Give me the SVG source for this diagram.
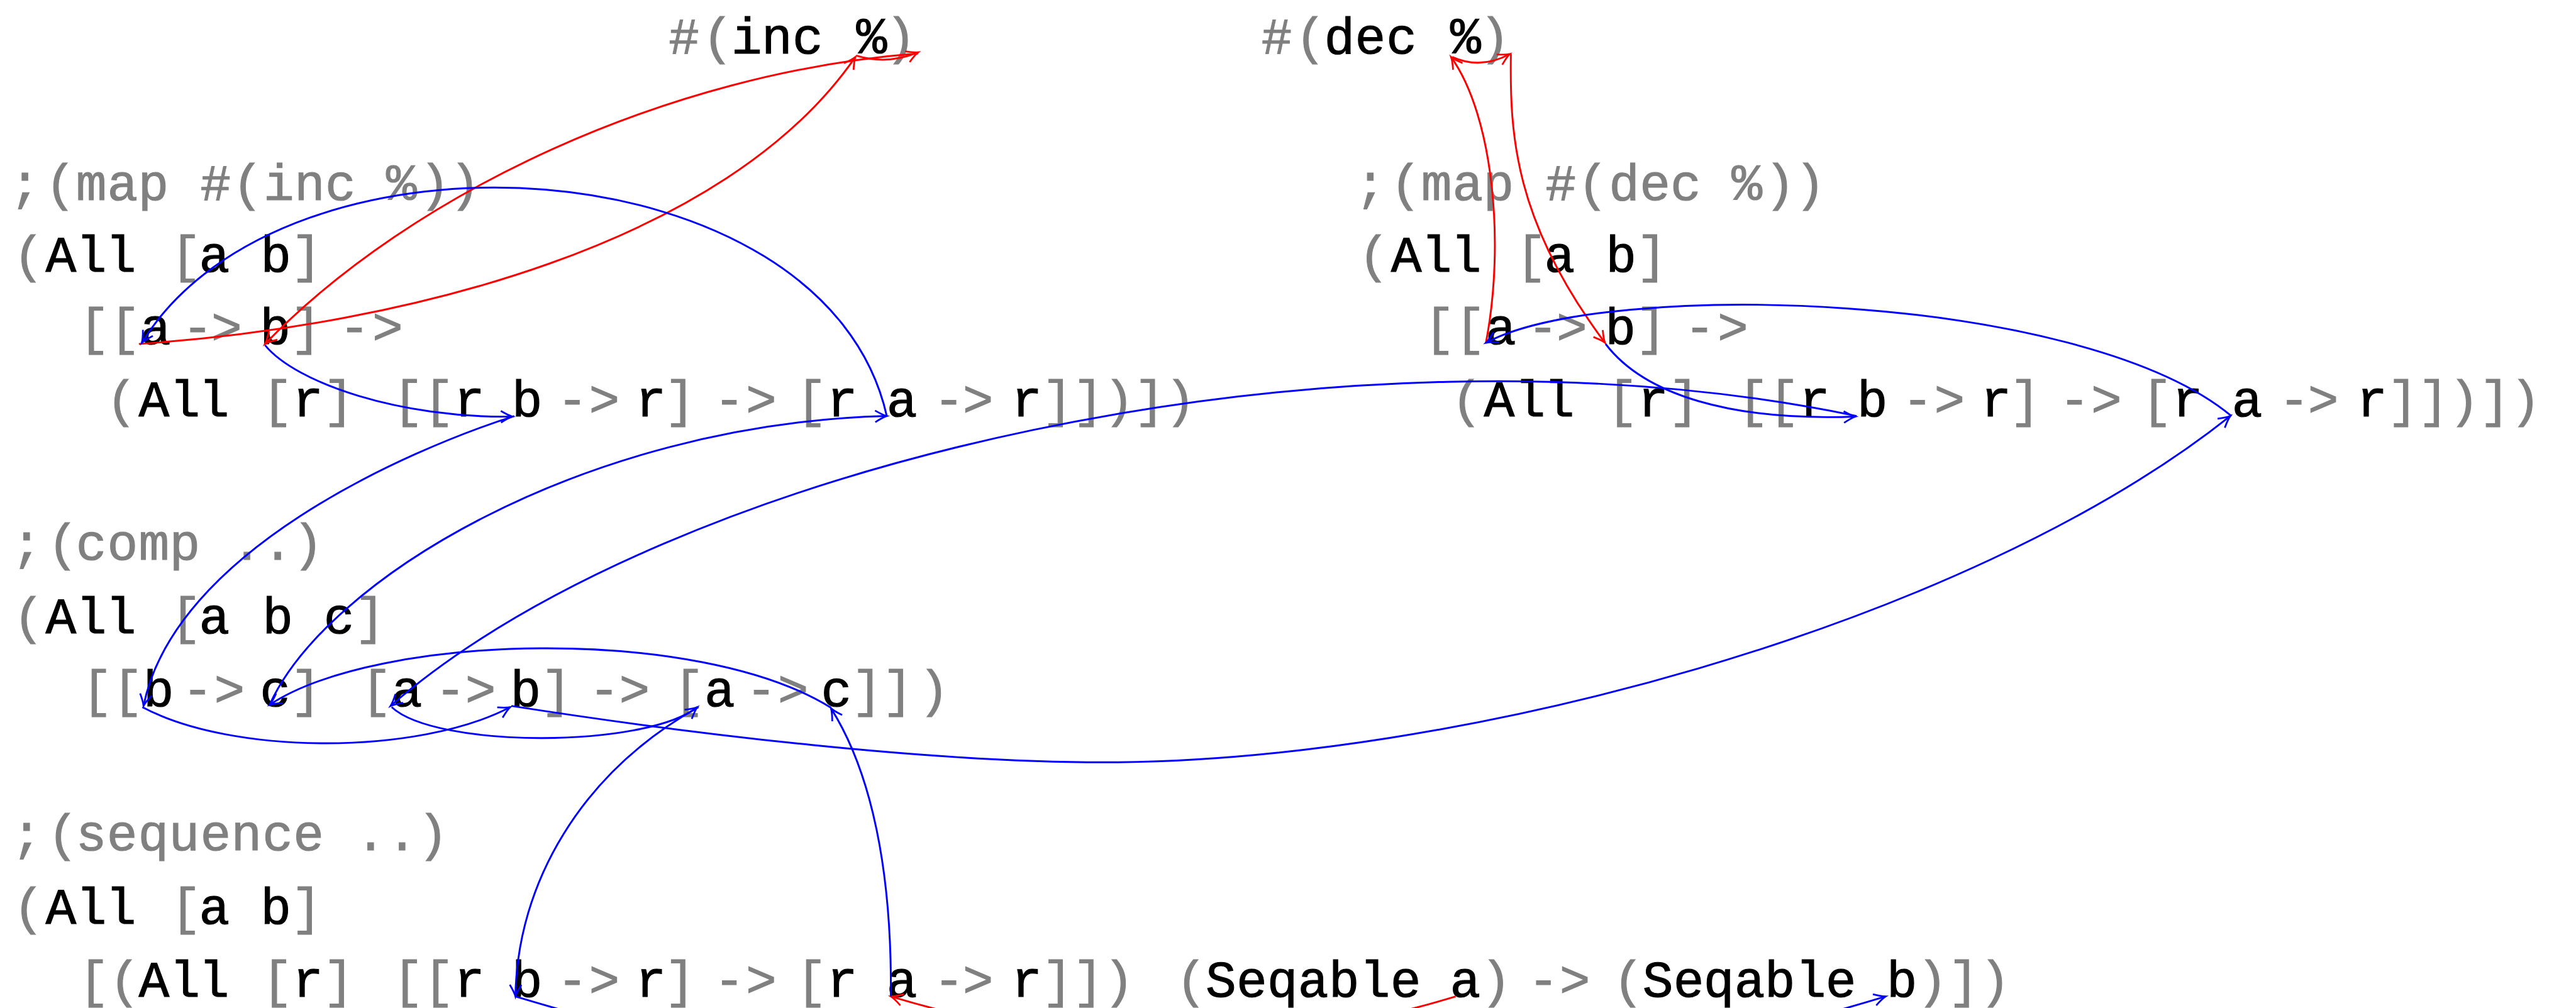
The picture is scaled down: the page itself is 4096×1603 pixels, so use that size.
<svg xmlns="http://www.w3.org/2000/svg" width="4096" height="1603" viewBox="0 0 4096 1603">
<defs>
<style>
.t{font-family:"Liberation Mono","DejaVu Sans Mono",monospace;font-size:88px;text-anchor:middle;stroke-width:1.2}
.g{fill:#808080;stroke:#808080}
.k{fill:#000;stroke:#000}
.cb{fill:none;stroke:#0000ff;stroke-width:3.2}
.cr{fill:none;stroke:#ff0000;stroke-width:3.2}
</style>
<marker id="ab" viewBox="-25 -15 30 30" markerWidth="30" markerHeight="30" refX="0" refY="0" orient="auto" markerUnits="userSpaceOnUse" overflow="visible"><path d="M-20,-10 Q-7,-2 0,0 Q-7,2 -20,10" fill="none" stroke="#0000ff" stroke-width="3"/></marker>
<marker id="ar" viewBox="-25 -15 30 30" markerWidth="30" markerHeight="30" refX="0" refY="0" orient="auto" markerUnits="userSpaceOnUse" overflow="visible"><path d="M-20,-10 Q-7,-2 0,0 Q-7,2 -20,10" fill="none" stroke="#ff0000" stroke-width="3"/></marker>
</defs>
<rect width="4096" height="1603" fill="#fff"/>
<g transform="scale(0.924)">
<g id="inc-fn"><text class="t" y="92"><tspan class="g" x="1177 1235">#(</tspan><tspan class="k" x="1285 1337 1390 1500">inc%</tspan><tspan class="g" x="1550">)</tspan></text></g>
<g id="dec-fn"><text class="t" y="92"><tspan class="g" x="2197 2255">#(</tspan><tspan class="k" x="2305 2358 2412 2522">dec%</tspan><tspan class="g" x="2572">)</tspan></text></g>

<g id="map-inc">
<text class="t g" y="344" x="43 104 157 211 264 371 426 480 533 586 691 748 800">;(map#(inc%))</text>
<text class="t" y="468"><tspan class="g" x="49">(</tspan><tspan class="k" x="105 157 208">All</tspan><tspan class="g" x="320">[</tspan><tspan class="k" x="369 501">ab</tspan><tspan class="g">]</tspan></text>
<text class="t" y="592"><tspan class="g" x="215">[[</tspan><tspan class="k">a</tspan><tspan class="g" x="340 390">-&gt;</tspan><tspan class="k" x="500">b</tspan><tspan class="g">]</tspan><tspan class="g" x="610 667">-&gt;</tspan></text>
<text class="t" y="716"><tspan class="g" x="209">(</tspan><tspan class="k" x="265 318 368">All</tspan><tspan class="g" x="530">[</tspan><tspan class="k">r</tspan><tspan class="g">]</tspan><tspan class="g" x="755">[[</tspan><tspan class="k">r</tspan><tspan class="k" x="907">b</tspan><tspan class="g" x="985 1040">-&gt;</tspan><tspan class="k" x="1120">r</tspan><tspan class="g" x="1170 1255 1310 1423">]-&gt;[</tspan><tspan class="k">r</tspan><tspan class="k" x="1552">a</tspan><tspan class="g" x="1633 1683">-&gt;</tspan><tspan class="k" x="1899">r</tspan><tspan class="g">]])])</tspan></text>
</g>

<g id="map-dec" transform="translate(2315,0)">
<text class="t g" y="344" x="43 104 157 211 264 371 426 480 533 586 691 748 800">;(map#(dec%))</text>
<text class="t" y="468"><tspan class="g" x="49">(</tspan><tspan class="k" x="105 157 208">All</tspan><tspan class="g" x="320">[</tspan><tspan class="k" x="369 501">ab</tspan><tspan class="g">]</tspan></text>
<text class="t" y="592"><tspan class="g" x="215">[[</tspan><tspan class="k">a</tspan><tspan class="g" x="340 390">-&gt;</tspan><tspan class="k" x="500">b</tspan><tspan class="g">]</tspan><tspan class="g" x="610 667">-&gt;</tspan></text>
<text class="t" y="716"><tspan class="g" x="209">(</tspan><tspan class="k" x="265 318 368">All</tspan><tspan class="g" x="530">[</tspan><tspan class="k">r</tspan><tspan class="g">]</tspan><tspan class="g" x="755">[[</tspan><tspan class="k">r</tspan><tspan class="k" x="907">b</tspan><tspan class="g" x="985 1040">-&gt;</tspan><tspan class="k" x="1120">r</tspan><tspan class="g" x="1170 1255 1310 1423">]-&gt;[</tspan><tspan class="k">r</tspan><tspan class="k" x="1552">a</tspan><tspan class="g" x="1633 1683">-&gt;</tspan><tspan class="k" x="1899">r</tspan><tspan class="g">]])])</tspan></text>
</g>

<g id="comp">
<text class="t g" y="963" x="46 108 157 211 265 318 425 478 530">;(comp..)</text>
<text class="t" y="1090"><tspan class="g" x="49">(</tspan><tspan class="k" x="105 157 208">All</tspan><tspan class="g" x="320">[</tspan><tspan class="k" x="369 478 610">abc</tspan><tspan class="g">]</tspan></text>
<text class="t" y="1215"><tspan class="g" x="220">[[</tspan><tspan class="k">b</tspan><tspan class="g" x="340 395">-&gt;</tspan><tspan class="k" x="500">c</tspan><tspan class="g">]</tspan><tspan class="g" x="674">[</tspan><tspan class="k">a</tspan><tspan class="g" x="775 827">-&gt;</tspan><tspan class="k" x="931">b</tspan><tspan class="g">]</tspan><tspan class="g" x="1040 1092 1212">-&gt;[</tspan><tspan class="k">a</tspan><tspan class="g" x="1310 1365">-&gt;</tspan><tspan class="k" x="1492">c</tspan><tspan class="g">]]</tspan><tspan class="g" x="1607">)</tspan></text>
</g>

<g id="sequence">
<text class="t g" y="1463" x="46 108 157 210 264 317 371 424 478 531 638 692 745">;(sequence..)</text>
<text class="t" y="1590"><tspan class="g" x="49">(</tspan><tspan class="k" x="105 157 208">All</tspan><tspan class="g" x="320">[</tspan><tspan class="k" x="369 501">ab</tspan><tspan class="g">]</tspan></text>
<text class="t" y="1715"><tspan class="g" x="188">[(</tspan><tspan class="k" x="265 318 368">All</tspan><tspan class="g" x="530">[</tspan><tspan class="k">r</tspan><tspan class="g">]</tspan><tspan class="g" x="755">[[</tspan><tspan class="k">r</tspan><tspan class="k" x="907">b</tspan><tspan class="g" x="985 1040">-&gt;</tspan><tspan class="k" x="1120">r</tspan><tspan class="g" x="1170 1255 1310 1423">]-&gt;[</tspan><tspan class="k">r</tspan><tspan class="k" x="1552">a</tspan><tspan class="g" x="1633 1683">-&gt;</tspan><tspan class="k" x="1846">r</tspan><tspan class="g">]])</tspan><tspan class="g" x="2050">(</tspan><tspan class="k" x="2101 2154 2207 2260 2313 2366 2419 2548">Seqablea</tspan><tspan class="g">)</tspan><tspan class="g" x="2656 2710 2802">-&gt;(</tspan><tspan class="k" x="2853 2906 2958 3011 3063 3116 3168 3273">Seqableb</tspan><tspan class="g" x="3325 3379 3433">)])</tspan></text>
</g>

<g id="connectors">
<path class="cr" d="M239,592 C700,560 1250,420 1472,98" marker-end="url(#ar)"/>
<path class="cr" d="M1474,96 Q1527,112 1580,90" marker-end="url(#ar)"/>
<path class="cr" d="M1580,92 C1150,125 710,330 456,592" marker-end="url(#ar)"/>
<path class="cr" d="M2557,590 C2590,420 2570,200 2497,98" marker-end="url(#ar)"/>
<path class="cr" d="M2499,98 Q2548,120 2598,93" marker-end="url(#ar)"/>
<path class="cr" d="M2600,93 C2598,230 2605,380 2762,590" marker-end="url(#ar)"/>
<path class="cr" d="M2505,1715 C2165,1817 1873,1817 1533,1715" marker-end="url(#ar)"/>
<path class="cb" d="M1526,716 C1420,245 490,190 244,590" marker-end="url(#ab)"/>
<path class="cb" d="M456,594 C510,660 690,720 882,717" marker-end="url(#ab)"/>
<path class="cb" d="M3840,716 C3580,500 2760,480 2557,590" marker-end="url(#ab)"/>
<path class="cb" d="M2763,592 C2830,680 2980,725 3193,717" marker-end="url(#ab)"/>
<path class="cb" d="M885,716 C700,775 300,950 247,1215" marker-end="url(#ab)"/>
<path class="cb" d="M464,1213 C560,1000 1000,730 1526,716" marker-end="url(#ab)"/>
<path class="cb" d="M3195,716 C2300,530 1150,800 672,1215" marker-end="url(#ab)"/>
<path class="cb" d="M880,1215 C1200,1265 1600,1312 1900,1312 C2500,1312 3380,1080 3838,716" marker-end="url(#ab)"/>
<path class="cb" d="M245,1217 C400,1300 720,1300 878,1217" marker-end="url(#ab)"/>
<path class="cb" d="M674,1217 C750,1288 1110,1288 1200,1217" marker-end="url(#ab)"/>
<path class="cb" d="M1430,1218 C1200,1075 650,1090 464,1213" marker-end="url(#ab)"/>
<path class="cb" d="M1202,1217 C1000,1330 890,1520 887,1715" marker-end="url(#ab)"/>
<path class="cb" d="M1533,1715 C1535,1500 1500,1330 1430,1219" marker-end="url(#ab)"/>
<path class="cb" d="M887,1715 C1712,1963 2420,1963 3245,1715" marker-end="url(#ab)"/>
</g>
</g>
</svg>
